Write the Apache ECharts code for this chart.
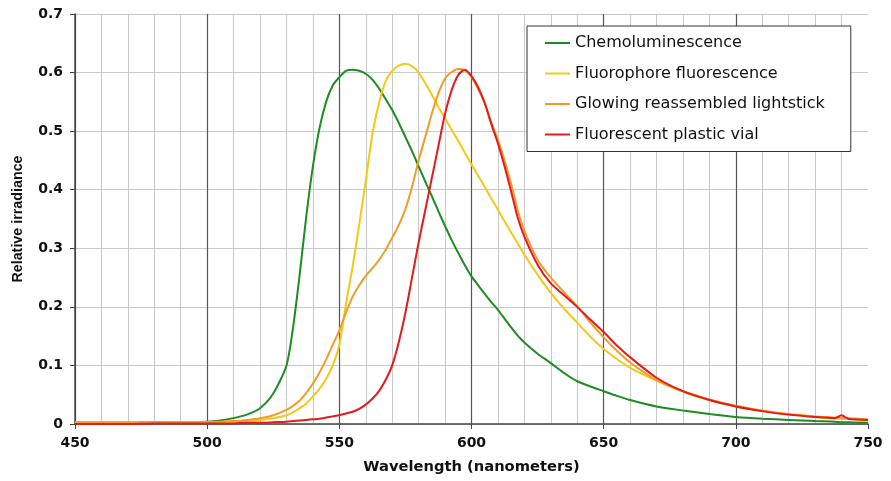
<!DOCTYPE html>
<html>
<head>
<meta charset="utf-8">
<script src="https://cdn.jsdelivr.net/npm/echarts@6/dist/echarts.min.js"></script>
<style>
  html, body { margin: 0; padding: 0; background: #fff; }
  #chart { width: 891px; height: 481px; }
</style>
</head>
<body>
<div id="chart"></div>
<script>
// wavelength (nm) shared by all four spectra
let wavelengths = [450, 460, 470, 480, 490, 500, 505, 510, 515, 520, 525, 530, 532.5, 535, 537.5, 540, 542.5, 545, 547.5, 550,
  552.5, 555, 557.5, 560, 562.5, 565, 567.5, 570, 572.5, 575, 577.5, 580, 582.5, 585, 587.5, 590, 592.5, 595, 597.5, 600,
  602.5, 605, 607.5, 610, 612.5, 615, 617.5, 620, 625, 630, 635, 640, 645, 650, 655, 660, 670, 680, 690, 700,
  710, 720, 730, 737.5, 740, 742.5, 750]

let chemo = [0.002, 0.002, 0.002, 0.003, 0.003, 0.004, 0.006, 0.010, 0.016, 0.027, 0.052, 0.1, 0.165, 0.255, 0.355, 0.44, 0.505, 0.55, 0.578, 0.592,
  0.603, 0.605, 0.603, 0.598, 0.588, 0.573, 0.555, 0.536, 0.514, 0.49, 0.466, 0.44, 0.414, 0.389, 0.363, 0.338, 0.314, 0.292, 0.271, 0.252,
  0.237, 0.222, 0.208, 0.195, 0.18, 0.165, 0.151, 0.139, 0.12, 0.104, 0.087, 0.073, 0.064, 0.056, 0.048, 0.041, 0.030, 0.023, 0.017, 0.012,
  0.009, 0.007, 0.005, 0.004, 0.003, 0.003, 0.002]

let fluorophore = [0.002, 0.002, 0.002, 0.002, 0.003, 0.003, 0.003, 0.004, 0.005, 0.007, 0.010, 0.015, 0.02, 0.027, 0.035, 0.047, 0.06, 0.077, 0.1, 0.135,
  0.205, 0.268, 0.34, 0.415, 0.495, 0.548, 0.585, 0.603, 0.612, 0.615, 0.611, 0.6, 0.582, 0.562, 0.541, 0.522, 0.502, 0.483, 0.463, 0.443,
  0.424, 0.405, 0.385, 0.366, 0.346, 0.327, 0.308, 0.289, 0.255, 0.224, 0.197, 0.173, 0.149, 0.128, 0.111, 0.096, 0.074, 0.055, 0.041, 0.030,
  0.022, 0.016, 0.012, 0.010, 0.009, 0.009, 0.007]

let lightstick = [0.003, 0.003, 0.003, 0.003, 0.003, 0.003, 0.004, 0.005, 0.007, 0.010, 0.015, 0.024, 0.031, 0.040, 0.053, 0.069, 0.088, 0.11, 0.135, 0.16,
  0.19, 0.217, 0.237, 0.253, 0.266, 0.28, 0.297, 0.318, 0.34, 0.367, 0.405, 0.45, 0.49, 0.53, 0.565, 0.59, 0.601, 0.606, 0.604, 0.592,
  0.572, 0.548, 0.515, 0.485, 0.45, 0.41, 0.365, 0.33, 0.28, 0.25, 0.225, 0.201, 0.173, 0.148, 0.125, 0.105, 0.075, 0.056, 0.042, 0.031,
  0.023, 0.017, 0.013, 0.011, 0.010, 0.010, 0.008]

let vial = [0.0, 0.0, 0.0, 0.001, 0.001, 0.001, 0.001, 0.001, 0.002, 0.002, 0.003, 0.004, 0.005, 0.006, 0.007, 0.008, 0.009, 0.011, 0.013, 0.015,
  0.018, 0.021, 0.026, 0.033, 0.043, 0.056, 0.075, 0.1, 0.14, 0.19, 0.25, 0.31, 0.365, 0.42, 0.475, 0.53, 0.57, 0.596, 0.605, 0.594,
  0.575, 0.548, 0.512, 0.479, 0.44, 0.397, 0.352, 0.32, 0.272, 0.24, 0.22, 0.2, 0.178, 0.157, 0.134, 0.114, 0.079, 0.056, 0.041, 0.030,
  0.022, 0.016, 0.012, 0.010, 0.015, 0.009, 0.007]

let seriesNames = ['Chemoluminescence', 'Fluorophore fluorescence', 'Glowing reassembled lightstick', 'Fluorescent plastic vial']
let seriesValues = [chemo, fluorophore, lightstick, vial]
let seriesColors = ['#1e8c23', '#f5c817', '#f39c25', '#e21b1f']

let chart = echarts.init(document.getElementById('chart'))

let tickFont = { fontFamily: 'DejaVu Sans', fontWeight: 'bold', fontSize: 14, color: '#111' }

let option = {
  animation: false,
  grid: { left: 75, right: 23, top: 14, bottom: 57, outerBoundsMode: 'none' },
  legend: {
    orient: 'vertical',
    left: 527,
    top: 26,
    padding: [9, 26, 9, 17],
    itemWidth: 25,
    itemHeight: 14,
    itemGap: 14.5,
    itemTextGap: 5,
    itemStyle: { opacity: 0 }, // hide the circle, keep the line
    backgroundColor: '#fff',
    borderColor: '#333',
    borderWidth: 1,
    borderRadius: 0,
    textStyle: { fontFamily: 'DejaVu Sans', fontSize: 16, color: '#111' },
    data: seriesNames
  },
  xAxis: {
    type: 'value',
    min: 450,
    max: 750,
    interval: 50,
    name: 'Wavelength (nanometers)',
    nameLocation: 'middle',
    nameGap: 36,
    nameTextStyle: { fontFamily: 'DejaVu Sans', fontWeight: 'bold', fontSize: 14.7, color: '#111' },
    axisLine: { show: true, lineStyle: { color: '#444', width: 1.5 } },
    axisTick: { show: true, length: 5, lineStyle: { color: '#444' } },
    axisLabel: Object.assign({ margin: 12 }, tickFont),
    splitLine: { show: true, showMaxLine: false, lineStyle: { color: '#555', width: 1.2 } },
    minorTick: { show: false, splitNumber: 5 },
    minorSplitLine: { show: true, lineStyle: { color: '#c9c9c9', width: 1 } }
  },
  yAxis: {
    type: 'value',
    min: 0,
    max: 0.7,
    interval: 0.1,
    name: 'Relative irradiance',
    nameLocation: 'middle',
    nameRotate: 90,
    nameGap: 50,
    nameTextStyle: { fontFamily: 'Liberation Sans', fontWeight: 'bold', fontSize: 14.3, color: '#111' },
    axisLine: { show: true, lineStyle: { color: '#444', width: 1.5 } },
    axisTick: { show: true, length: 5, lineStyle: { color: '#444' } },
    axisLabel: Object.assign({ margin: 12 }, tickFont),
    splitLine: { show: true, lineStyle: { color: '#c9c9c9', width: 1 } }
  },
  series: seriesNames.map((name, k) => ({
    name: name,
    type: 'line',
    symbol: 'none',
    smooth: 0.25,
    color: seriesColors[k],
    lineStyle: { width: 2, color: seriesColors[k] },
    data: wavelengths.map((w, i) => [w, seriesValues[k][i]])
  }))
}

chart.setOption(option)
</script>
</body>
</html>
